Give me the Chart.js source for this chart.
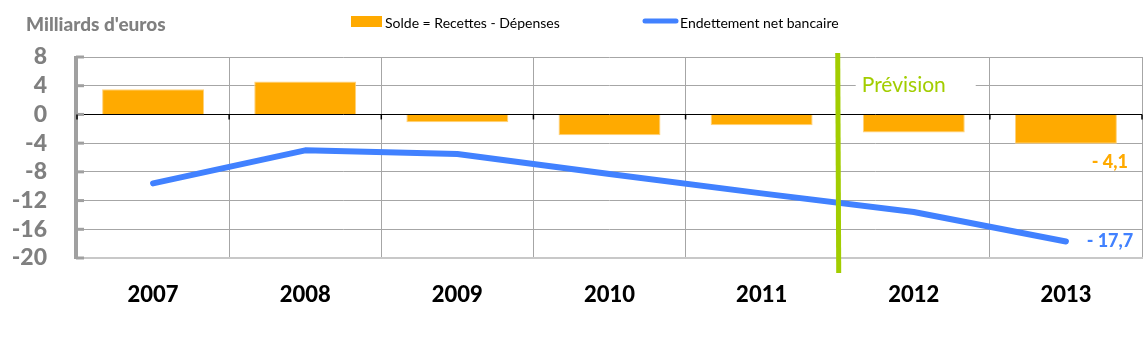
<!DOCTYPE html>
<html>
<head>
<meta charset="utf-8">
<script src="https://cdn.jsdelivr.net/npm/chart.js@4"></script>
<style>
  body { margin: 0; background: #fff; }
  #wrap { width: 1147px; height: 339px; }
</style>
</head>
<body>
<div id="wrap"><canvas id="mycanvas" width="1147" height="339"></canvas></div>
<script>
var years = ['2007', '2008', '2009', '2010', '2011', '2012', '2013'];
var solde = [3.5, 4.6, -1.1, -2.9, -1.5, -2.5, -4.1];
var endettement = [-9.6, -5.0, -5.5, -8.3, -11.0, -13.6, -17.7];
var yTicks = [8, 4, 0, -4, -8, -12, -16, -20];
var firstForecast = 5; // 2012

var ORANGE = '#FFAA00';
var BLUE = '#4181FF';
var GREEN = '#A2CD00';
var GRID = '#A6A6A6';
var FONT = 'Lato, "Open Sans", sans-serif';

var extras = {
  id: 'extras',
  beforeDatasetsDraw: function(chart) {
    var c = chart.ctx, x = chart.scales.x, y = chart.scales.y, a = chart.chartArea;
    c.save();
    // y axis bar with ticks on the inner side
    c.strokeStyle = '#A0A0A0';
    c.lineWidth = 4;
    c.beginPath();
    c.moveTo(a.left - 1, y.getPixelForValue(8) - 1);
    c.lineTo(a.left - 1, y.getPixelForValue(-20) + 1);
    c.stroke();
    c.lineWidth = 3;
    yTicks.forEach(function(v) {
      var py = y.getPixelForValue(v);
      c.beginPath();
      c.moveTo(a.left - 1, py);
      c.lineTo(a.left + 7, py);
      c.stroke();
    });
    // small black marks under the zero line
    c.strokeStyle = '#000';
    c.lineWidth = 1.5;
    var y0 = y.getPixelForValue(0);
    for (var i = 0; i <= years.length; i++) {
      var px = i === 0 ? a.left : i === years.length ? a.right : (x.getPixelForValue(i - 1) + x.getPixelForValue(i)) / 2;
      c.beginPath();
      c.moveTo(px, y0);
      c.lineTo(px, y0 + 5);
      c.stroke();
    }
    // forecast caption
    var sx = (x.getPixelForValue(firstForecast - 1) + x.getPixelForValue(firstForecast)) / 2;
    c.fillStyle = '#fff';
    c.fillRect(sx + 18, y.getPixelForValue(5.7), 120, y.getPixelForValue(2.2) - y.getPixelForValue(5.7));
    c.fillStyle = GREEN;
    c.font = '21px ' + FONT;
    c.textBaseline = 'middle';
    c.fillText('Prévision', sx + 24, y.getPixelForValue(4));
    c.restore();
  },
  afterDatasetsDraw: function(chart) {
    var c = chart.ctx, x = chart.scales.x, y = chart.scales.y, a = chart.chartArea;
    var last = years.length - 1;
    c.save();
    // forecast separator
    var sx = (x.getPixelForValue(firstForecast - 1) + x.getPixelForValue(firstForecast)) / 2;
    c.strokeStyle = GREEN;
    c.lineWidth = 5;
    c.beginPath();
    c.moveTo(sx, a.top - 4);
    c.lineTo(sx + 1, a.bottom + 15);
    c.stroke();
    // end values
    c.font = '900 18px ' + FONT;
    c.textAlign = 'center';
    c.textBaseline = 'middle';
    var lx = x.getPixelForValue(last) + 44;
    c.fillStyle = ORANGE;
    c.fillText('- ' + String(-solde[last]).replace('.', ','), lx, y.getPixelForValue(solde[last]) + 18);
    c.fillStyle = BLUE;
    c.fillText('- ' + String(-endettement[last]).replace('.', ','), lx, y.getPixelForValue(endettement[last]));
    // unit + legend
    c.textAlign = 'left';
    c.fillStyle = '#808080';
    c.font = '900 19px ' + FONT;
    c.fillText("Milliards d'euros", 26, 25);
    c.fillStyle = ORANGE;
    c.fillRect(351, 16, 31, 11);
    c.fillStyle = '#000';
    c.font = '14px ' + FONT;
    c.fillText('Solde = Recettes - Dépenses', 385, 23);
    c.strokeStyle = BLUE;
    c.lineWidth = 5;
    c.lineCap = 'round';
    c.beginPath();
    c.moveTo(645, 21);
    c.lineTo(676, 21);
    c.stroke();
    c.fillText('Endettement net bancaire', 680, 23);
    c.restore();
  }
};

var ctx = document.getElementById('mycanvas');
var chart = new Chart(ctx, {
  type: 'bar',
  data: {
    labels: years,
    datasets: [
      {
        type: 'line',
        label: 'Endettement net bancaire',
        data: endettement,
        borderColor: BLUE,
        backgroundColor: BLUE,
        borderWidth: 6,
        borderCapStyle: 'round',
        borderJoinStyle: 'round',
        pointRadius: 0,
        tension: 0,
        fill: false,
        order: 0
      },
      {
        label: 'Solde = Recettes - Dépenses',
        data: solde,
        backgroundColor: ORANGE,
        borderColor: '#FFD27A',
        borderWidth: 1,
        barPercentage: 0.67,
        categoryPercentage: 1,
        order: 1
      }
    ]
  },
  options: {
    responsive: false,
    animation: false,
    layout: { padding: { top: 57, right: 5, left: 0, bottom: 0 } },
    plugins: { legend: { display: false }, tooltip: { enabled: false } },
    scales: {
      x: {
        offset: true,
        grid: { offset: true, color: GRID, lineWidth: 1, drawTicks: false },
        border: { display: true, color: '#C8C8C8', width: 2 },
        ticks: { color: '#000', font: { family: FONT, size: 22, weight: '900' }, padding: 24 },
        afterFit: function(s) { s.height = 81; }
      },
      y: {
        min: -20,
        max: 8,
        afterBuildTicks: function(s) { s.ticks = yTicks.map(function(v) { return { value: v }; }); },
        grid: {
          drawTicks: false,
          color: function(c) { return c.tick && c.tick.value === 0 ? '#000' : GRID; },
          lineWidth: function(c) { return c.tick && c.tick.value === -20 ? 0 : 1; }
        },
        border: { display: false },
        ticks: { autoSkip: false, color: '#808080', font: { family: FONT, size: 23, weight: '900' }, padding: 30 },
        afterFit: function(s) { s.width = 77; }
      }
    }
  },
  plugins: [extras]
});
</script>
</body>
</html>
